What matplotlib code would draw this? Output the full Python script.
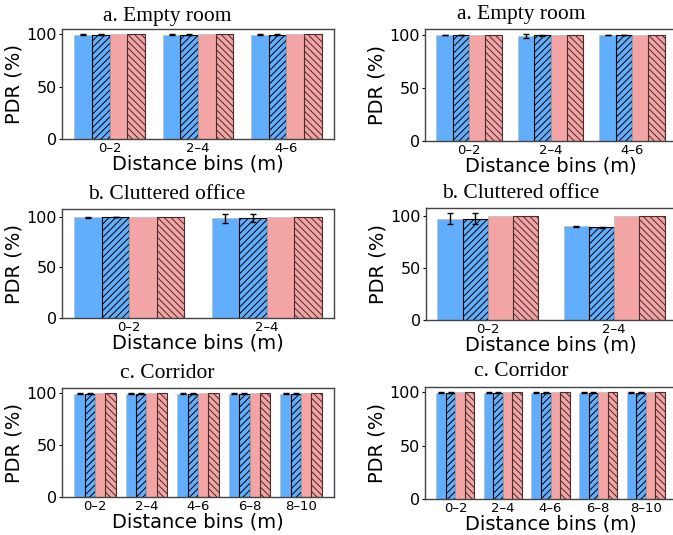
import matplotlib.pyplot as plt
import numpy as np

plt.rcParams["hatch.linewidth"] = 0.7

bins_a = ["0–2", "2–4", "4–6"]
bins_b = ["0–2", "2–4"]
bins_c = ["0–2", "2–4", "4–6", "6–8", "8–10"]

# series order: blue, blue hatched, pink, pink hatched
# left column
a_left_vals = [[99.7, 99.7, 99.7], [99.8, 99.8, 99.8], [99.9, 99.9, 99.9], [99.9, 99.9, 99.9]]
a_left_err = [[0.3, 0.3, 0.3], [0.2, 0.2, 0.2]]
b_left_vals = [[99.3, 98.3], [99.8, 98.5], [99.3, 99.5], [99.8, 99.9]]
b_left_err = [[0.3, 4.0], [0.3, 4.0]]
c_left_vals = [[99.7] * 5, [99.8] * 5, [99.9] * 5, [99.9] * 5]
c_left_err = [[0.3] * 5, [0.3] * 5]

# right column
a_right_vals = [[99.9, 99.0, 99.9], [99.9, 99.8, 99.9], [100, 100, 100], [100, 100, 100]]
a_right_err = [[0.2, 1.5, 0.2], [0.1, 0.4, 0.1]]
b_right_vals = [[98.0, 90.6], [98.0, 89.5], [100, 100], [100, 100]]
b_right_err = [[5.0, 0.3], [5.0, 0.3]]
c_right_vals = [[99.9] * 5, [99.9] * 5, [100] * 5, [100] * 5]
c_right_err = [[0.2] * 5, [0.2] * 5]

titles = ["a. Empty room", "b. Cluttered office", "c. Corridor"]

blue = "#61aefc"
pink = "#f3a5a5"


def draw(ax, bins, vals, errs):
    x = np.arange(len(bins))
    w = 0.2
    ekw = dict(elinewidth=1.0, capthick=1.0)
    ax.bar(x - 1.5 * w, vals[0], w, color=blue, edgecolor="#bbbbbb", linewidth=0.5,
           yerr=errs[0], capsize=2.5, error_kw=ekw)
    ax.bar(x - 0.5 * w, vals[1], w, color=blue, edgecolor="black", linewidth=0.8, hatch="/////",
           yerr=errs[1], capsize=2.5, error_kw=ekw)
    ax.bar(x + 0.5 * w, vals[2], w, color=pink, edgecolor="#bbbbbb", linewidth=0.5)
    ax.bar(x + 1.5 * w, vals[3], w, color=pink, edgecolor="#4a2a2a", linewidth=0.8, hatch="\\\\\\\\\\")
    ax.set_xticks(x)
    ax.set_xticklabels(bins, fontsize=9.5)
    ax.set_yticks([0, 50, 100])
    ax.tick_params(axis="y", labelsize=11.5, length=2, pad=1.5)
    ax.tick_params(axis="x", length=0, pad=2)
    ax.set_ylabel("PDR (%)", fontsize=14, labelpad=2)
    ax.set_xlabel("Distance bins (m)", fontsize=14, labelpad=0)
    for s in ax.spines.values():
        s.set_color("#444444")
        s.set_linewidth(1.0)


fig = plt.figure(figsize=(6.73, 5.35), dpi=100)

left_axes = [
    fig.add_axes([62 / 673, 0.740, 272 / 673, 0.2056]),
    fig.add_axes([62 / 673, 0.4056, 272 / 673, 0.2037]),
    fig.add_axes([62 / 673, 0.071, 272 / 673, 0.2037]),
]
right_axes = [
    fig.add_axes([425 / 673, 0.7364, 251 / 673, 0.2093]),
    fig.add_axes([426 / 673, 0.4018, 250 / 673, 0.2093]),
    fig.add_axes([425 / 673, 0.0673, 251 / 673, 0.2093]),
]

draw(left_axes[0], bins_a, a_left_vals, a_left_err)
draw(left_axes[1], bins_b, b_left_vals, b_left_err)
draw(left_axes[2], bins_c, c_left_vals, c_left_err)
draw(right_axes[0], bins_a, a_right_vals, a_right_err)
draw(right_axes[1], bins_b, b_right_vals, b_right_err)
draw(right_axes[2], bins_c, c_right_vals, c_right_err)

# panel titles centred over each half
title_y_left = [16, 195, 374]
title_y_right = [15, 193, 372]
for t, yl, yr in zip(titles, title_y_left, title_y_right):
    fig.text(167 / 673, 1 - yl / 535, t, ha="center", va="center",
             fontsize=15.5, family="Liberation Serif")
    fig.text(521 / 673, 1 - yr / 535, t, ha="center", va="center",
             fontsize=15.5, family="Liberation Serif")

fig.savefig("out.png", dpi=100)
